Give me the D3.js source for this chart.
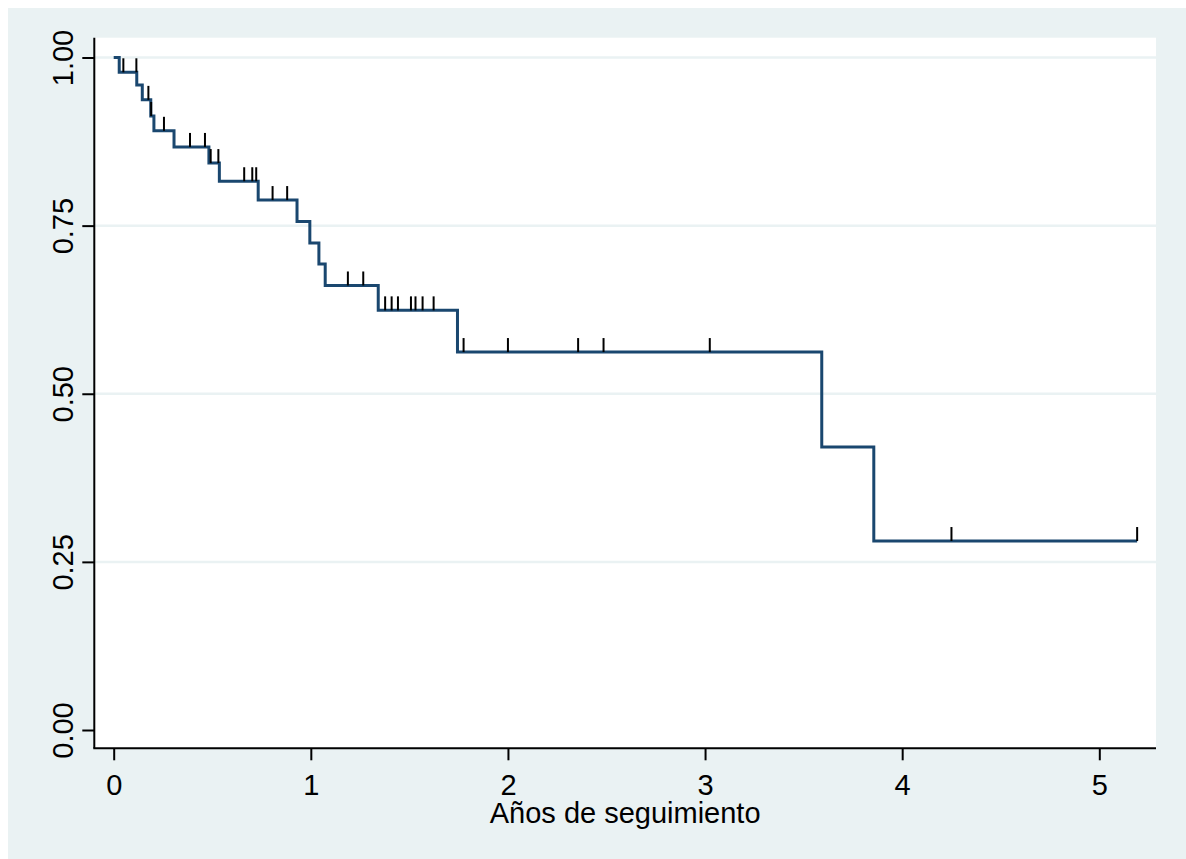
<!DOCTYPE html>
<html>
<head>
<meta charset="utf-8">
<title>Kaplan-Meier</title>
<script src="https://d3js.org/d3.v7.min.js"></script>
<style>
  body { margin: 0; background: #fff; }
  text { font-family: "Liberation Sans", Arial, sans-serif; fill: #000; }
</style>
</head>
<body>
<div id="chart"></div>
<script>

// datos
var eventTimes = [0.028, 0.117, 0.145, 0.188, 0.204, 0.306, 0.483, 0.536, 0.733, 0.930,
                  0.995, 1.041, 1.073, 1.342, 1.744, 3.592, 3.856];
var survival   = [0.978, 0.959, 0.937, 0.913, 0.891, 0.867, 0.843, 0.816, 0.788, 0.756,
                  0.724, 0.693, 0.661, 0.624, 0.562, 0.421, 0.281];
var censorTimes = [0.049, 0.115, 0.176, 0.190, 0.255, 0.387, 0.463, 0.492, 0.531, 0.662,
                   0.703, 0.723, 0.806, 0.880, 1.188, 1.266, 1.377, 1.410, 1.442, 1.508,
                   1.531, 1.567, 1.623, 1.775, 2.000, 2.356, 2.485, 3.024, 4.250, 5.192];
var xTicks = [0, 1, 2, 3, 4, 5];
var yTicks = [0, 0.25, 0.5, 0.75, 1];
var xTitle = "Años de seguimiento";

var width = 1186, height = 859;
// región del gráfico
var plot = { left: 94.3, right: 1156, top: 37.7, bottom: 748.3 };

var x = d3.scaleLinear().domain([0, 5]).range([113.7, 1099.3]);
var y = d3.scaleLinear().domain([0, 1]).range([730, 57.5]);

var svg = d3.select("#chart").append("svg")
  .attr("width", width)
  .attr("height", height);

// fondo
svg.append("rect")
  .attr("x", 8).attr("y", 8)
  .attr("width", width - 8).attr("height", height - 8)
  .style("fill", "#EAF2F3");
svg.append("rect")
  .attr("x", plot.left).attr("y", plot.top)
  .attr("width", plot.right - plot.left).attr("height", plot.bottom - plot.top)
  .style("fill", "#fff");

// líneas de cuadrícula (sin la de 0)
svg.append("g").selectAll("line")
  .data(yTicks.filter(d => d > 0))
  .enter().append("line")
  .attr("x1", plot.left).attr("x2", plot.right)
  .attr("y1", d => y(d)).attr("y2", d => y(d))
  .style("stroke", "#EAF2F3")
  .style("stroke-width", 2.5);

// valor de supervivencia en un tiempo dado
function survAt(t) {
  var s = 1;
  for (var i = 0; i < eventTimes.length; i++) {
    if (eventTimes[i] <= t) s = survival[i];
  }
  return s;
}

// curva escalonada
var pts = [[0, 1]];
eventTimes.forEach((t, i) => pts.push([t, survival[i]]));
pts.push([d3.max(censorTimes), survival[survival.length - 1]]);

var line = d3.line()
  .x(d => x(d[0]))
  .y(d => y(d[1]))
  .curve(d3.curveStepAfter);

svg.append("path")
  .datum(pts)
  .attr("d", line)
  .style("fill", "none")
  .style("stroke", "#1A476F")
  .style("stroke-width", 3)
  .style("stroke-linejoin", "miter");

// marcas de censura
svg.append("g").selectAll("line")
  .data(censorTimes)
  .enter().append("line")
  .attr("x1", d => x(d)).attr("x2", d => x(d))
  .attr("y1", d => y(survAt(d)))
  .attr("y2", d => y(survAt(d)) - 14)
  .style("stroke", "#000")
  .style("stroke-width", 2);

// ejes
var xAxis = svg.append("g")
  .attr("transform", `translate(0,${plot.bottom})`)
  .call(d3.axisBottom(x).tickValues(xTicks).tickFormat(d3.format("d")).tickSize(12));
xAxis.select(".domain").remove();
xAxis.selectAll(".tick line").style("stroke", "#000").style("stroke-width", 2);
xAxis.selectAll(".tick text")
  .attr("y", 46.7).attr("dy", 0)
  .style("font-size", "29px")
  .style("font-family", "'Liberation Sans', Arial, sans-serif")
  .style("fill", "#000");

var yAxis = svg.append("g")
  .attr("transform", `translate(${plot.left},0)`)
  .call(d3.axisLeft(y).tickValues(yTicks).tickFormat(d3.format(".2f")).tickSize(12));
yAxis.select(".domain").remove();
yAxis.selectAll(".tick line").style("stroke", "#000").style("stroke-width", 2);
yAxis.selectAll(".tick text")
  .attr("x", 0).attr("dy", 0)
  .attr("transform", "translate(-21.8,0) rotate(-90)")
  .attr("text-anchor", "middle")
  .style("font-size", "29px")
  .style("font-family", "'Liberation Sans', Arial, sans-serif")
  .style("fill", "#000");

svg.append("line")
  .attr("x1", plot.left).attr("x2", plot.left)
  .attr("y1", plot.top).attr("y2", plot.bottom)
  .style("stroke", "#000").style("stroke-width", 2);
svg.append("line")
  .attr("x1", plot.left - 1).attr("x2", plot.right)
  .attr("y1", plot.bottom).attr("y2", plot.bottom)
  .style("stroke", "#000").style("stroke-width", 2);

// título del eje x
svg.append("text")
  .attr("x", (plot.left + plot.right) / 2)
  .attr("y", 823)
  .attr("text-anchor", "middle")
  .style("font-size", "29px")
  .text(xTitle);

</script>
</body>
</html>
